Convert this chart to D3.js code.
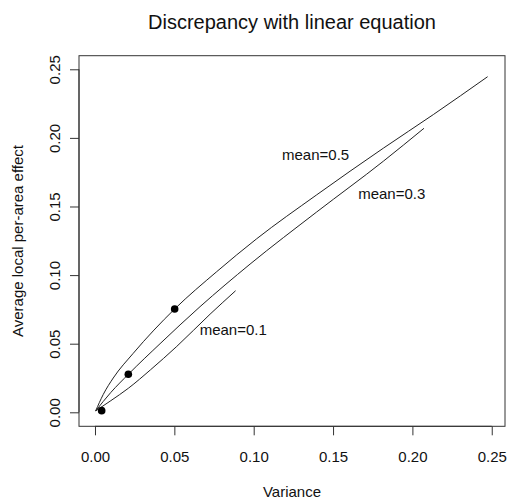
<!DOCTYPE html>
<html>
<head>
<meta charset="utf-8">
<script src="https://cdn.jsdelivr.net/npm/d3@7"></script>
<style>
  html, body { margin: 0; padding: 0; background: #ffffff; }
  svg { display: block; font-family: "Liberation Sans", Arial, sans-serif; }
</style>
</head>
<body>
<svg id="chart" width="507" height="501"></svg>
<script>
// ---- data ----
const titleText = "Discrepancy with linear equation";
const xLabel = "Variance";
const yLabel = "Average local per-area effect";
const xTicks = [0.00, 0.05, 0.10, 0.15, 0.20, 0.25];
const yTicks = [0.00, 0.05, 0.10, 0.15, 0.20, 0.25];

// series: [variance, effect]
const mean05 = [[0.0004,0.001],[0.0052,0.013],[0.0115,0.025],[0.0241,0.043],[0.0502,0.0753],[0.0767,0.1025],[0.1019,0.1265],[0.1397,0.1585],[0.1817,0.1925],[0.2132,0.2170],[0.2474,0.2446]];
const mean03 = [[0.0004,0.001],[0.010,0.0145],[0.021,0.0277],[0.041,0.050],[0.0662,0.0770],[0.0977,0.1080],[0.1397,0.1460],[0.1817,0.1830],[0.2073,0.207]];
const mean01 = [[0.0004,0.001],[0.010,0.0085],[0.021,0.0175],[0.035,0.031],[0.0515,0.048],[0.0725,0.0715],[0.0886,0.0886]];
const seriesNames = ["mean=0.5", "mean=0.3", "mean=0.1"];
const labelPos = [[0.139,0.1875],[0.187,0.159],[0.0871,0.060]];
const dots = [[0.0042,0.0012],[0.021,0.0277],[0.0502,0.0753]];

// ---- layout ----
const svg = d3.select("#chart");
const L = 79, R = 505, T = 55.7, B = 426.3;
const x = d3.scaleLinear().domain([-0.01008, 0.25835]).range([L, R]);
const y = d3.scaleLinear().domain([-0.0102, 0.2599]).range([B, T]);
const fmt = d3.format(".2f");
const ink = "#111";

// box
svg.append("rect").attr("x", L).attr("y", T).attr("width", R - L).attr("height", B - T)
  .attr("fill", "none").attr("stroke", "#333").attr("stroke-width", 1);

// x axis
const xAxis = d3.axisBottom(x).tickValues(xTicks).tickFormat(fmt).tickSize(9);
const gx = svg.append("g").attr("transform", `translate(0,${B})`).call(xAxis);
gx.select(".domain").attr("d", `M${x(xTicks[0])},0H${x(xTicks[xTicks.length-1])}`).attr("stroke", "#333");
gx.selectAll(".tick line").attr("stroke", "#333");
gx.selectAll(".tick text").attr("font-size", 15).attr("fill", ink)
  .attr("y", 457 - B).attr("dy", "0.35em")
  .attr("font-family", "Liberation Sans, Arial, sans-serif");

// y axis
const yAxis = d3.axisLeft(y).tickValues(yTicks).tickFormat(fmt).tickSize(9);
const gy = svg.append("g").attr("transform", `translate(${L},0)`).call(yAxis);
gy.select(".domain").attr("d", `M0,${y(yTicks[0])}V${y(yTicks[yTicks.length-1])}`).attr("stroke", "#333");
gy.selectAll(".tick line").attr("stroke", "#333");
gy.selectAll(".tick text").remove();
gy.selectAll(".tick").append("text")
  .attr("transform", `translate(${55 - L},0) rotate(-90)`)
  .attr("text-anchor", "middle").attr("dy", "0.35em")
  .attr("font-size", 15).attr("fill", ink)
  .attr("font-family", "Liberation Sans, Arial, sans-serif")
  .text(d => fmt(d));

// titles
svg.append("text").attr("x", (L + R) / 2).attr("y", 22).attr("dy", "0.35em")
  .attr("text-anchor", "middle").attr("font-size", 20).attr("fill", ink).text(titleText);
svg.append("text").attr("x", (L + R) / 2).attr("y", 492).attr("dy", "0.35em")
  .attr("text-anchor", "middle").attr("font-size", 15).attr("fill", ink).text(xLabel);
svg.append("text").attr("transform", `translate(18,${(T + B) / 2}) rotate(-90)`).attr("dy", "0.35em")
  .attr("text-anchor", "middle").attr("font-size", 15).attr("fill", ink).text(yLabel);

// lines
const line = d3.line().x(d => x(d[0])).y(d => y(d[1])).curve(d3.curveMonotoneX);
[mean05, mean03, mean01].forEach(s => {
  svg.append("path").attr("d", line(s)).attr("fill", "none")
    .attr("stroke", "#222").attr("stroke-width", 1);
});

// labels
seriesNames.forEach((n, i) => {
  svg.append("text").attr("x", x(labelPos[i][0])).attr("y", y(labelPos[i][1])).attr("dy", "0.35em")
    .attr("text-anchor", "middle").attr("font-size", 15).attr("fill", ink).text(n);
});

// dots
svg.selectAll("circle.dot").data(dots).enter().append("circle").attr("class", "dot")
  .attr("cx", d => x(d[0])).attr("cy", d => y(d[1])).attr("r", 3.8).attr("fill", "#000");
</script>
</body>
</html>
